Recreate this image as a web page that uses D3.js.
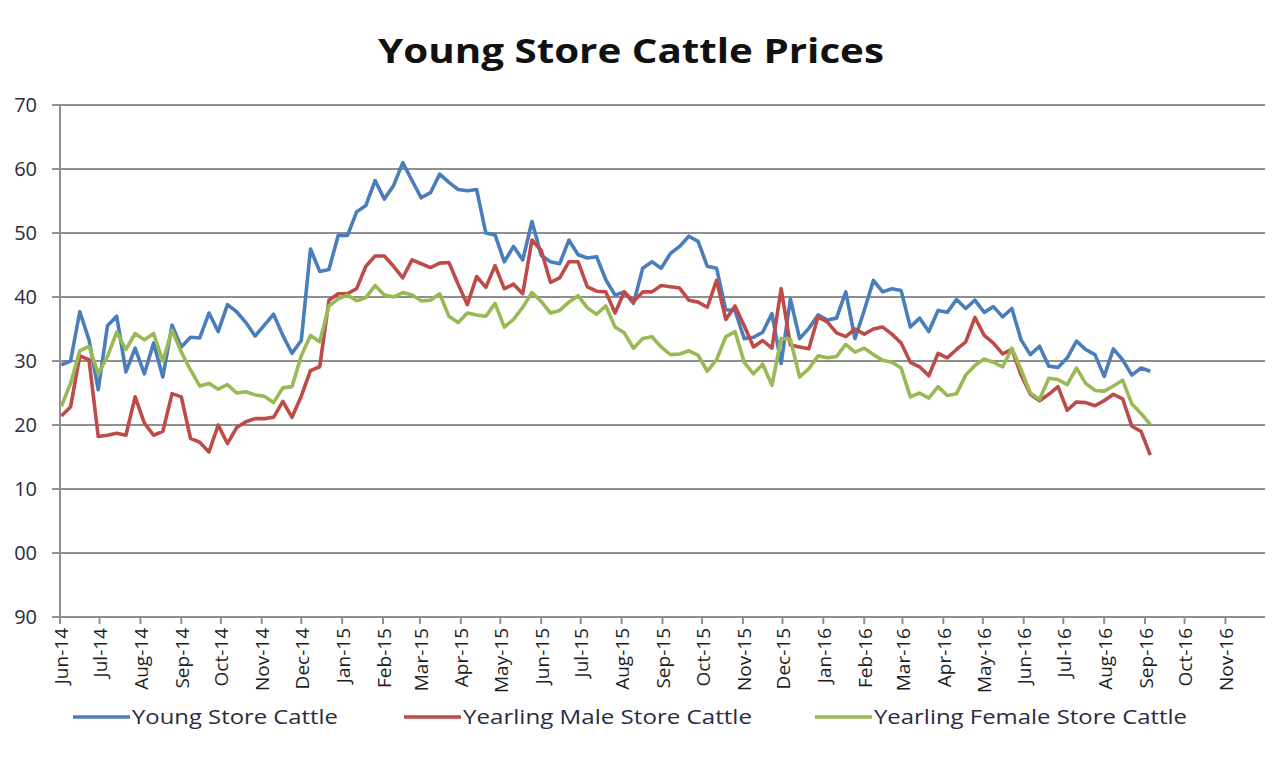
<html>
<script src="https://d3js.org/d3.v7.min.js"></script>
<style>
body { margin: 0; background: #fff; }
text { font-family: "Open Sans", sans-serif; }
</style>
<body>
<svg width="1276" height="772"></svg>
<script>
// weekly prices, first week starting 2 Jun 2014
var firstWeek = new Date(2014, 5, 2);
var seriesNames = ["Young Store Cattle", "Yearling Male Store Cattle", "Yearling Female Store Cattle"];
var seriesColors = ["#4a7ebb", "#be4b48", "#98b954"];

var young = [129.4, 130, 137.7, 133.3, 125.5, 135.5, 137, 128.3, 132, 128,
  132.8, 127.5, 135.6, 132.2, 133.7, 133.6, 137.5, 134.6, 138.8, 137.7,
  136, 133.9, 135.6, 137.3, 134, 131.2, 133.2, 147.5, 144, 144.3,
  149.6, 149.6, 153.3, 154.3, 158.2, 155.3, 157.4, 161, 158.2, 155.5,
  156.3, 159.2, 157.9, 156.8, 156.6, 156.8, 150, 149.7, 145.5, 147.9,
  145.8, 151.8, 146.5, 145.5, 145.2, 148.9, 146.6, 146.1, 146.3, 142.7,
  140.3, 140.8, 139, 144.5, 145.5, 144.5, 146.8, 147.9, 149.5, 148.7,
  144.8, 144.5, 138, 137.9, 133.5, 133.7, 134.5, 137.4, 129.6, 139.7,
  133.5, 135.1, 137.2, 136.4, 136.7, 140.8, 133.5, 137.9, 142.6, 140.8,
  141.3, 141, 135.3, 136.7, 134.6, 137.9, 137.6, 139.6, 138.2, 139.5,
  137.6, 138.5, 136.9, 138.2, 133.3, 131, 132.3, 129.2, 129, 130.5,
  133.1, 131.8, 131, 127.6, 131.9, 130.2, 127.8, 128.9, 128.4];

var yearlingMale = [121.4, 122.8, 130.8, 130.2, 118.2, 118.4, 118.7, 118.4, 124.4, 120.3,
  118.4, 119, 124.9, 124.4, 117.9, 117.3, 115.8, 120, 117.1, 119.6,
  120.5, 121, 121, 121.2, 123.7, 121.2, 124.5, 128.5, 129.1, 139.5,
  140.5, 140.5, 141.3, 144.8, 146.4, 146.4, 144.8, 143, 145.8, 145.2,
  144.6, 145.3, 145.4, 142, 138.8, 143.2, 141.5, 144.9, 141.3, 142,
  140.5, 148.9, 147.3, 142.3, 143, 145.5, 145.5, 141.6, 140.9, 140.8,
  137.5, 140.8, 139.3, 140.8, 140.8, 141.8, 141.6, 141.4, 139.5, 139.2,
  138.4, 142.6, 136.5, 138.6, 135.5, 132.2, 133.2, 132, 141.3, 132.5,
  132.2, 131.9, 136.9, 136.1, 134.4, 133.8, 135, 134.2, 135, 135.3,
  134.2, 132.8, 129.8, 129.1, 127.7, 131.2, 130.5, 131.8, 133, 136.8,
  134, 132.8, 131.1, 131.8, 127.8, 124.8, 123.8, 124.8, 126, 122.3,
  123.6, 123.5, 123, 123.8, 124.8, 124.1, 119.8, 119, 115.3];

var yearlingFemale = [122.9, 126.5, 131.6, 132.3, 128, 130.7, 134.5, 131.8, 134.3, 133.3,
  134.3, 130, 134.8, 131.4, 128.6, 126.1, 126.5, 125.6, 126.3, 125,
  125.2, 124.7, 124.5, 123.5, 125.8, 126, 130.8, 134, 133, 138.6,
  139.7, 140.3, 139.4, 139.9, 141.8, 140.3, 140, 140.7, 140.3, 139.4,
  139.5, 140.5, 137, 136, 137.5, 137.2, 137, 139, 135.3, 136.5,
  138.4, 140.7, 139.3, 137.5, 137.9, 139.2, 140.2, 138.3, 137.3, 138.6,
  135.3, 134.4, 132, 133.5, 133.8, 132.2, 131, 131.1, 131.6, 130.9,
  128.4, 130.2, 133.8, 134.6, 129.8, 128, 129.5, 126.2, 133.5, 133.4,
  127.5, 128.8, 130.8, 130.5, 130.7, 132.6, 131.4, 132, 131, 130.1,
  129.8, 128.9, 124.4, 125, 124.2, 126, 124.6, 124.9, 127.8, 129.3,
  130.3, 129.8, 129.1, 132, 128.6, 125, 124, 127.3, 127.1, 126.3,
  128.9, 126.5, 125.4, 125.3, 126.1, 127, 123.3, 121.8, 120.1];

// axis labels as printed on the chart (hundreds digit cut off)
var yTicks = [90, 100, 110, 120, 130, 140, 150, 160, 170];
var yTickLabels = ["90", "00", "10", "20", "30", "40", "50", "60", "70"];
var xStart = new Date(2014, 5, 1), xEnd = new Date(2016, 11, 1);

var svg = d3.select("svg");
var plotLeft = 60, plotRight = 1265, plotTop = 105, plotBottom = 617;

var xs = d3.scaleTime().domain([xStart, xEnd]).range([plotLeft, plotRight]);
var ys = d3.scaleLinear().domain([90, 170]).range([plotBottom, plotTop]);

// title
svg.append("text")
  .attr("x", 378).attr("y", 63)
  .attr("textLength", 506).attr("lengthAdjust", "spacingAndGlyphs")
  .style("font-size", "34px").style("font-weight", "bold").style("fill", "#111")
  .text("Young Store Cattle Prices");

// gridlines + y labels
svg.append("g").selectAll("line")
  .data(yTicks).enter().append("line")
  .attr("x1", plotLeft - 8).attr("x2", plotRight)
  .attr("y1", function(d) { return ys(d); })
  .attr("y2", function(d) { return ys(d); })
  .style("stroke", "#8f8f8f").style("stroke-width", 2);

svg.append("g").selectAll("text")
  .data(yTicks).enter().append("text")
  .attr("x", 37)
  .attr("y", function(d) { return ys(d); })
  .attr("dy", "0.35em")
  .attr("text-anchor", "end")
  .style("font-size", "20px").style("fill", "#2b2b40")
  .text(function(d, i) { return yTickLabels[i]; });

// y axis line
svg.append("line")
  .attr("x1", plotLeft).attr("x2", plotLeft).attr("y1", plotTop).attr("y2", plotBottom)
  .style("stroke", "#8f8f8f").style("stroke-width", 2);

// x axis ticks and month labels
var months = d3.timeMonth.range(xStart, xEnd);
var fmt = d3.timeFormat("%b-%y");
var xg = svg.append("g");
xg.selectAll("line")
  .data(months).enter().append("line")
  .attr("x1", function(d) { return xs(d); })
  .attr("x2", function(d) { return xs(d); })
  .attr("y1", plotBottom).attr("y2", plotBottom + 7)
  .style("stroke", "#8f8f8f").style("stroke-width", 2);
xg.selectAll("text")
  .data(months).enter().append("text")
  .attr("transform", function(d) { return "translate(" + (xs(d) + 1) + "," + (plotBottom + 11) + ") rotate(-90)"; })
  .attr("dy", "0.35em")
  .attr("text-anchor", "end")
  .style("font-size", "19px").style("fill", "#1e1e1e")
  .text(function(d) { return fmt(d); });

// lines
var allSeries = [young, yearlingMale, yearlingFemale];
var line = d3.line()
  .x(function(d, i) { return xs(d3.timeDay.offset(firstWeek, 7 * i)); })
  .y(function(d) { return ys(d); });

svg.append("g").selectAll("path")
  .data(allSeries).enter().append("path")
  .attr("d", line)
  .style("fill", "none")
  .style("stroke", function(d, i) { return seriesColors[i]; })
  .style("stroke-width", 3.6)
  .style("stroke-linejoin", "round");

// legend
var legendX = [73, 404, 815];
var legendTextW = [206, 289, 313];
var lg = svg.append("g").selectAll("g")
  .data(seriesNames).enter().append("g")
  .attr("transform", function(d, i) { return "translate(" + legendX[i] + ",717)"; });
lg.append("line")
  .attr("x1", 0).attr("x2", 57).attr("y1", 0).attr("y2", 0)
  .style("stroke", function(d, i) { return seriesColors[i]; })
  .style("stroke-width", 3.6);
lg.append("text")
  .attr("x", 59).attr("dy", "0.35em")
  .attr("textLength", function(d, i) { return legendTextW[i]; })
  .attr("lengthAdjust", "spacingAndGlyphs")
  .style("font-size", "20px").style("fill", "#2b2b40")
  .text(function(d) { return d; });
</script>
</body>
</html>
